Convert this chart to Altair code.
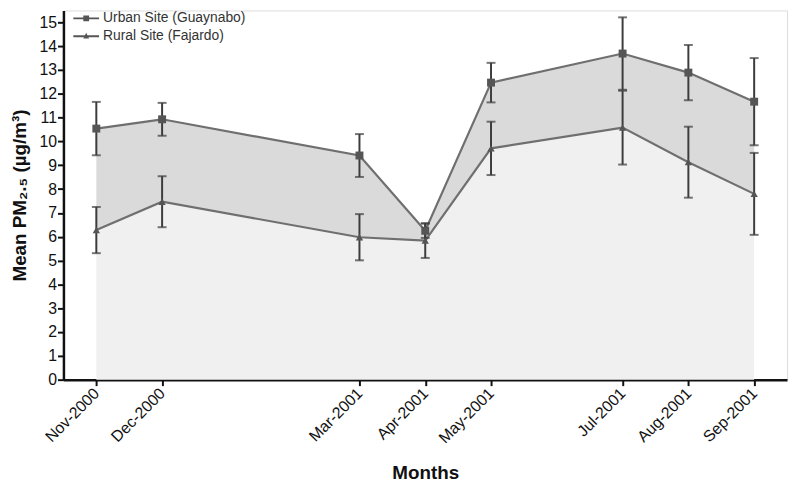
import altair as alt
import pandas as pd

month_idx = [0, 1, 4, 5, 6, 8, 9, 10]
month_labels = ["Nov-2000", "Dec-2000", "Mar-2001", "Apr-2001",
                "May-2001", "Jul-2001", "Aug-2001", "Sep-2001"]
urban = [10.54, 10.93, 9.41, 6.25, 12.47, 13.69, 12.89, 11.67]
urban_err = [1.12, 0.69, 0.90, 0.30, 0.83, 1.52, 1.16, 1.83]
rural = [6.28, 7.47, 5.98, 5.84, 9.71, 10.58, 9.13, 7.80]
rural_err = [0.97, 1.07, 0.97, 0.73, 1.12, 1.55, 1.49, 1.72]
series_names = ["Urban Site (Guaynabo)", "Rural Site (Fajardo)"]
y_ticks = list(range(0, 16))

df = pd.DataFrame({
    "m": month_idx, "label": month_labels,
    "urban": urban, "urban_err": urban_err,
    "rural": rural, "rural_err": rural_err,
})
df["u_lo"] = df["urban"] - df["urban_err"]
df["u_hi"] = df["urban"] + df["urban_err"]
df["r_lo"] = df["rural"] - df["rural_err"]
df["r_hi"] = df["rural"] + df["rural_err"]
df["zero"] = 0.0

label_expr = "[" + ",".join(f"'{l}'" for l in month_labels) + "][indexof([" + \
    ",".join(str(m) for m in month_idx) + "], datum.value)]"

FONT = "Liberation Sans"
LINE = "#6f6f6f"
BAR = "#3c3c3c"
MARK = "#555555"

x_scale = alt.Scale(domain=[-0.5, 10.5], nice=False, zero=False)
x_axis = alt.Axis(values=month_idx, labelExpr=label_expr, title="Months",
                  labelAngle=-45, labelAlign="right", labelBaseline="middle",
                  labelFontSize=16, labelFont=FONT, labelColor="#111",
                  labelOverlap=False,
                  titleFont=FONT, titleFontSize=19, titleFontWeight="bold",
                  titleColor="#111", titlePadding=18,
                  tickSize=6, tickWidth=2, tickColor="#111",
                  domainWidth=2.5, domainColor="#111", grid=False,
                  labelPadding=5)
y_scale = alt.Scale(domain=[0, 15.5], nice=False)
y_axis = alt.Axis(values=y_ticks, title="Mean PM₂.₅ (µg/m³)",
                  labelFontSize=16, labelFont=FONT, labelColor="#111",
                  labelOverlap=False,
                  titleFont=FONT, titleFontSize=19, titleFontWeight="bold",
                  titleColor="#111", titlePadding=10,
                  tickSize=6, tickWidth=2, tickColor="#111",
                  domainWidth=2.5, domainColor="#111", grid=False, labelPadding=1)


def X():
    return alt.X("m:Q", scale=x_scale, axis=x_axis)


def Y(field):
    return alt.Y(f"{field}:Q", scale=y_scale, axis=y_axis)


base = alt.Chart(df)

lower = base.mark_area(color="#f0f0f0", opacity=1).encode(
    x=X(), y=Y("rural"), y2="zero:Q")
band = base.mark_area(color="#dadada", opacity=1).encode(
    x=X(), y=Y("urban"), y2="rural:Q")
u_line = base.mark_line(color=LINE, strokeWidth=2.2).encode(x=X(), y=Y("urban"))
r_line = base.mark_line(color=LINE, strokeWidth=2.2).encode(x=X(), y=Y("rural"))


def errbars(lo, hi):
    rule = base.mark_rule(color=BAR, strokeWidth=2).encode(x=X(), y=Y(lo), y2=f"{hi}:Q")
    cap_lo = base.mark_tick(color=BAR, orient="horizontal", size=9, thickness=2).encode(
        x=X(), y=Y(lo))
    cap_hi = base.mark_tick(color=BAR, orient="horizontal", size=9, thickness=2).encode(
        x=X(), y=Y(hi))
    return [rule, cap_lo, cap_hi]


u_pts = base.mark_point(shape="square", filled=True, color=MARK, size=64, opacity=1).encode(
    x=X(), y=Y("urban"))
r_pts = base.mark_point(shape="triangle-up", filled=True, color=MARK, size=55, opacity=1).encode(
    x=X(), y=Y("rural"))

leg_df = pd.DataFrame({"series": series_names, "m": [0, 0], "v": [0, 0]})
legend_layer = alt.Chart(leg_df).transform_filter("false").mark_point(
    filled=True, color=MARK, opacity=1).encode(
    x=X(), y=Y("v"),
    shape=alt.Shape("series:N",
                    scale=alt.Scale(domain=series_names,
                                    range=["M-2,-0.15H2V0.15H-2ZM-0.45,-0.45H0.45V0.45H-0.45Z",
                                           "M-2,-0.15H2V0.15H-2ZM0,-0.55L0.45,0.35H-0.45Z"]),
                    legend=alt.Legend(title=None, orient="none", legendX=16, legendY=1,
                                      padding=0, symbolSize=169, symbolFillColor=MARK,
                                      symbolStrokeWidth=0,
                                      symbolOpacity=1,
                                      labelFont=FONT, labelFontSize=14, labelColor="#333",
                                      labelOffset=10, rowPadding=4)))

chart = alt.layer(lower, band, u_line, r_line,
                  *errbars("u_lo", "u_hi"), *errbars("r_lo", "r_hi"),
                  u_pts, r_pts, legend_layer).properties(
    width=731, height=373,
    autosize=alt.AutoSizeParams(type="none"),
    padding={"left": 56, "top": 0, "right": 5, "bottom": 110},
).configure_view(stroke=None).configure(background="white")

chart.save("out.html", embed_options={"renderer": "svg", "actions": False})
